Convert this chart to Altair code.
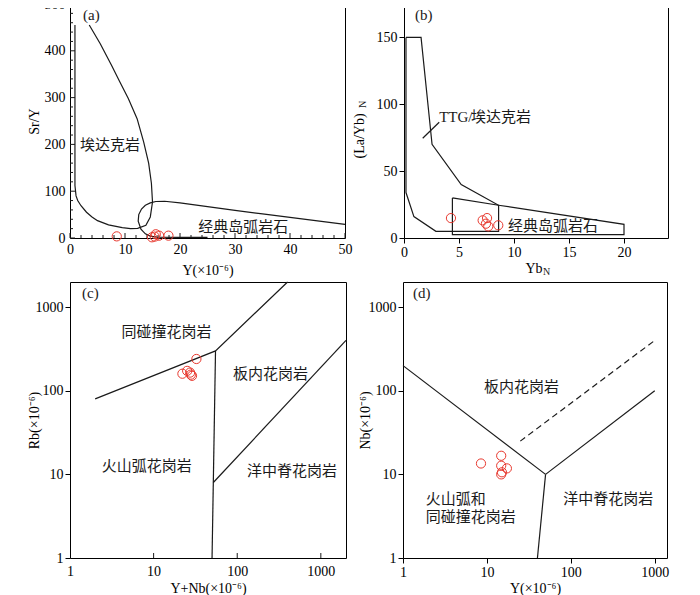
import altair as alt
import pandas as pd

SERIF = "Liberation Serif"
CJK = "Noto Sans CJK SC"
RED = "#e8392f"
INK = "#1a1a1a"
LW = 1.2

# ---------------- (a) Sr/Y vs Y ----------------
a_adakite_x = [0.9, 0.9, 1.1, 1.4, 2.0, 3.0, 4.0, 5.0, 7.0, 9.5, 11.0, 12.3, 13.8, 14.6, 15.0, 14.8, 14.3, 13.4, 12.2, 10.6, 9.0, 7.5, 5.5, 3.5]
a_adakite_y = [455, 112, 90, 80, 69, 55, 45, 37, 28, 22, 20, 20.5, 27, 45, 77, 117, 160, 205, 255, 298, 335, 370, 415, 455]
a_arc_x = [25, 20, 15.8, 14.6, 13.7, 12.9, 12.4, 12.5, 13.0, 13.7, 14.6, 15.6, 17.2, 20, 25, 30, 35, 40, 45, 50]
a_arc_y = [1.5, 1.5, 2, 4, 9, 19, 36, 50, 62, 70, 75, 78, 78.5, 75, 67, 59, 51.5, 44, 36.5, 29]
a_sample_x = [8.5, 14.9, 15.4, 15.6, 16.2, 17.9]
a_sample_y = [3.5, 1.5, 3.0, 8.0, 5.0, 5.0]
a_xticks = [0, 10, 20, 30, 40, 50]
a_xminor = [2, 4, 6, 8, 12, 14, 16, 18, 22, 24, 26, 28, 32, 34, 36, 38, 42, 44, 46, 48]
a_yticks = [0, 100, 200, 300, 400, 500]
a_yminor = [20, 40, 60, 80, 120, 140, 160, 180, 220, 240, 260, 280, 320, 340, 360, 380, 420, 440, 460, 480]
a_lab_text = ["埃达克岩", "经典岛弧岩石"]
a_lab_x = [1.8, 23.3]
a_lab_y = [198, 24]

# ---------------- (b) (La/Yb)N vs YbN ----------------
b_ttg_x = [0.18, 1.55, 2.55, 5.2, 8.6, 8.6, 2.9, 0.9, 0.18, 0.18]
b_ttg_y = [150, 150, 70, 40, 24.5, 5, 5, 16, 34, 150]
b_arc_x = [4.4, 8.6, 20, 20, 4.4, 4.4]
b_arc_y = [30, 24.5, 10.2, 2.5, 2.5, 30]
b_ptr_x = [1.7, 3.2]
b_ptr_y = [74.6, 86.6]
b_sample_x = [4.27, 7.15, 7.55, 7.45, 7.66, 8.57]
b_sample_y = [14.9, 13.2, 14.9, 10.7, 8.7, 9.5]
b_xticks = [0, 5, 10, 15, 20]
b_yticks = [0, 50, 100, 150]

# ---------------- (c) Rb vs Y+Nb ----------------
c_colg_x = [2, 55, 400]
c_colg_y = [80, 300, 2000]
c_vag_x = [50, 55]
c_vag_y = [1, 300]
c_org_x = [51.8, 2000]
c_org_y = [8, 400]
c_sample_x = [22.1, 32.5, 25.2, 27.3, 28.8, 27.9]
c_sample_y = [160, 240, 173, 165, 151, 156]
c_lab_text = ["同碰撞花岗岩", "板内花岗岩", "火山弧花岗岩", "洋中脊花岗岩"]
c_lab_x = [14.3, 250, 8.3, 452]
c_lab_y = [506, 158, 12.7, 11.0]
log_ticks = [1, 10, 100, 1000]

# ---------------- (d) Nb vs Y ----------------
d_wpg_x = [1, 50]
d_wpg_y = [200, 10]
d_vag_x = [50, 40]
d_vag_y = [10, 1]
d_org_x = [50, 1000]
d_org_y = [10, 100]
d_dash_x = [25, 1000]
d_dash_y = [25, 400]
d_sample_x = [8.5, 14.8, 14.8, 17.3, 15.1, 14.8]
d_sample_y = [13.5, 16.7, 12.7, 11.8, 10.6, 10.0]
d_lab_text = ["板内花岗岩", "洋中脊花岗岩"]
d_lab_x = [25.9, 280]
d_lab_y = [110, 5.1]
d_lab2_text = ["火山弧和", "同碰撞花岗岩"]
d_lab2_x = [1.87, 1.87]
d_lab2_y = [5.11, 3.11]


def lines_df(segments):
    rows = []
    for g, (xs, ys) in enumerate(segments):
        for i, (x, y) in enumerate(zip(xs, ys)):
            rows.append({"x": x, "y": y, "g": g, "i": i})
    return pd.DataFrame(rows)


def line_layer(segments, X, Y, dash=None):
    kw = dict(color=INK, strokeWidth=LW)
    if dash:
        kw["strokeDash"] = dash
    return alt.Chart(lines_df(segments)).mark_line(**kw).encode(
        x=X, y=Y, detail="g:N", order="i:Q")


def point_layer(xs, ys, X, Y):
    df = pd.DataFrame({"x": xs, "y": ys})
    return alt.Chart(df).mark_point(shape="circle", filled=False, color=RED,
                                    size=85, strokeWidth=1, opacity=1).encode(x=X, y=Y)


def text_layer(xs, ys, labels, X, Y, align="left", font=CJK, size=15):
    df = pd.DataFrame({"x": xs, "y": ys, "t": labels})
    return alt.Chart(df).mark_text(align=align, baseline="middle", font=font,
                                   fontSize=size, color=INK).encode(x=X, y=Y, text="t:N")


def xticks_in(vals, X, h, length):
    df = pd.DataFrame({"x": vals})
    return alt.Chart(df).mark_rule(color=INK, strokeWidth=1).encode(
        x=X, y=alt.value(h), y2=alt.value(h - length))


def yticks_in(vals, Y, length):
    df = pd.DataFrame({"y": vals})
    return alt.Chart(df).mark_rule(color=INK, strokeWidth=1).encode(
        y=Y, x=alt.value(0), x2=alt.value(length))


def free_text(txt, px, py, size=14, font=SERIF, angle=0, align="left"):
    df = pd.DataFrame({"t": [txt]})
    return alt.Chart(df).mark_text(align=align, baseline="middle", font=font,
                                   fontSize=size, color=INK, angle=angle).encode(
        x=alt.value(px), y=alt.value(py), text="t:N")


SUP = "(×10⁻⁶)"

# ---------- panel a ----------
AW, AH = 275, 234
aX = alt.X("x:Q", scale=alt.Scale(domain=[0, 50], nice=False, zero=False),
           axis=alt.Axis(values=a_xticks, ticks=False, labelPadding=4, title="Y" + SUP,
                         titleY=32, titleBaseline="middle"))
aY = alt.Y("y:Q", scale=alt.Scale(domain=[0, 500], nice=False, zero=False),
           axis=alt.Axis(values=a_yticks, ticks=False, labelPadding=5, title="Sr/Y",
                         titleX=-36, titleBaseline="middle"))
pa = alt.layer(
    line_layer([(a_adakite_x, a_adakite_y), (a_arc_x, a_arc_y)], aX, aY),
    xticks_in(a_xticks, aX, AH, 5),
    xticks_in(a_xminor, aX, AH, 3),
    yticks_in(a_yticks, aY, 5),
    yticks_in(a_yminor, aY, 3),
    text_layer(a_lab_x, a_lab_y, a_lab_text, aX, aY),
    point_layer(a_sample_x, a_sample_y, aX, aY),
    free_text("(a)", 13, 11, size=15),
).properties(width=AW, height=AH)

# ---------- panel b ----------
BW, BH = 264, 234
bX = alt.X("x:Q", scale=alt.Scale(domain=[0, 24], nice=False, zero=False),
           axis=alt.Axis(values=b_xticks, tickSize=5, labelPadding=2, title="Yb",
                         titleX=121, titleAlign="left", titleY=30, titleBaseline="middle"))
bY = alt.Y("y:Q", scale=alt.Scale(domain=[0, 175], nice=False, zero=False),
           axis=alt.Axis(values=b_yticks, tickSize=5, labelPadding=2, title="(La/Yb)",
                         titleX=-45, titleY=154, titleAlign="left", titleBaseline="middle"))
pb = alt.layer(
    line_layer([(b_ttg_x, b_ttg_y), (b_arc_x, b_arc_y), (b_ptr_x, b_ptr_y)], bX, bY),
    text_layer([3.2], [90.7], ["TTG/"], bX, bY, font=SERIF, size=15),
    text_layer([6.1], [90.7], ["埃达克岩"], bX, bY),
    text_layer([9.45], [9.0], ["经典岛弧岩石"], bX, bY),
    point_layer(b_sample_x, b_sample_y, bX, bY),
    free_text("(b)", 11, 11, size=15),
    free_text("N", -41, 104, size=10, angle=270),
    free_text("N", 139, BH + 34, size=10),
).properties(width=BW, height=BH)

# ---------- panel c ----------
CW, CH = 276, 276
cX = alt.X("x:Q", scale=alt.Scale(type="log", domain=[1, 2000], nice=False),
           axis=alt.Axis(values=log_ticks, format="d", ticks=False, labelPadding=6,
                         title="Y+Nb" + SUP, titleY=30, titleBaseline="middle"))
cY = alt.Y("y:Q", scale=alt.Scale(type="log", domain=[1, 2000], nice=False),
           axis=alt.Axis(values=log_ticks, format="d", tickSize=5, labelPadding=2,
                         title="Rb" + SUP, titleX=-36, titleBaseline="middle"))
pc = alt.layer(
    line_layer([(c_colg_x, c_colg_y), (c_vag_x, c_vag_y), (c_org_x, c_org_y)], cX, cY),
    xticks_in(log_ticks[1:], cX, CH, 5),
    text_layer(c_lab_x, c_lab_y, c_lab_text, cX, cY, align="center"),
    point_layer(c_sample_x, c_sample_y, cX, cY),
    free_text("(c)", 12, 11, size=15),
).properties(width=CW, height=CH)

# ---------- panel d ----------
DW, DH = 264, 276
dX = alt.X("x:Q", scale=alt.Scale(type="log", domain=[1, 1400], nice=False),
           axis=alt.Axis(values=log_ticks, format="d", tickSize=5, labelPadding=2,
                         title="Y" + SUP, titleY=30, titleBaseline="middle"))
dY = alt.Y("y:Q", scale=alt.Scale(type="log", domain=[1, 2000], nice=False),
           axis=alt.Axis(values=log_ticks, format="d", tickSize=5, labelPadding=2,
                         title="Nb" + SUP, titleX=-38, titleBaseline="middle"))
pd_ = alt.layer(
    line_layer([(d_wpg_x, d_wpg_y), (d_vag_x, d_vag_y), (d_org_x, d_org_y)], dX, dY),
    line_layer([(d_dash_x, d_dash_y)], dX, dY, dash=[6, 4]),
    text_layer(d_lab_x, d_lab_y, d_lab_text, dX, dY, align="center"),
    text_layer(d_lab2_x, d_lab2_y, d_lab2_text, dX, dY),
    point_layer(d_sample_x, d_sample_y, dX, dY),
    free_text("(d)", 10, 11, size=15),
).properties(width=DW, height=DH)

top = alt.hconcat(pa, pb, spacing=-2)
bot = alt.hconcat(pc, pd_, spacing=8)
chart = alt.vconcat(top, bot, spacing=1).properties(
    padding={"left": 18, "top": -12, "right": 0, "bottom": 0}
).configure_view(stroke="black", strokeWidth=1).configure_axis(
    labelFont=SERIF, labelFontSize=14, labelColor="black", labelFlush=False,
    labelOverlap=False, titleFont=SERIF, titleFontSize=14, titleFontWeight="normal",
    titleColor="black", tickColor="black", domain=False, grid=False
)

chart.save("out.html", embed_options={"renderer": "svg", "actions": False})
